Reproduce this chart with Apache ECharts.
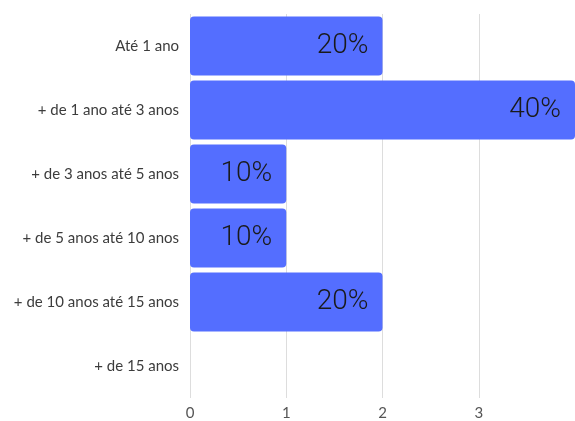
<!DOCTYPE html>
<html><head><meta charset="utf-8">
<script src="https://cdn.jsdelivr.net/npm/echarts@6/dist/echarts.min.js"></script>
<style>html,body{margin:0;padding:0;background:#fff;overflow:hidden}#c{width:575px;height:421px}</style>
</head><body><div id="c"></div>
<script>
const categories = ["Até 1 ano", "+ de 1 ano até 3 anos", "+ de 3 anos até 5 anos", "+ de 5 anos até 10 anos", "+ de 10 anos até 15 anos", "+ de 15 anos"];
const values = [2, 4, 1, 1, 2, 0];
const labels = ["20%", "40%", "10%", "10%", "20%", ""];

const chart = echarts.init(document.getElementById('c'));
chart.setOption({
  animation: false,
  grid: { left: 190, width: 390, top: 14, height: 390, containLabel: false },
  xAxis: {
    type: 'value', min: 0, max: 4, interval: 1,
    axisLine: { show: false }, axisTick: { show: false },
    splitLine: { show: true, lineStyle: { color: '#dddddd', width: 1 } },
    axisLabel: { showMaxLabel: false, color: '#555', fontFamily: 'Lato', fontSize: 15, margin: 8 }
  },
  yAxis: {
    type: 'category', data: categories, inverse: true,
    axisLine: { show: false }, axisTick: { show: false },
    axisLabel: { color: '#3c3c3c', fontFamily: 'Lato', fontSize: 15, margin: 11 }
  },
  series: [{
    type: 'bar',
    data: values,
    barWidth: 59,
    itemStyle: { color: '#546eff', borderRadius: 4 },
    label: {
      show: true, position: 'insideRight', distance: 14,
      formatter: p => labels[p.dataIndex],
      color: '#1a1a1a', fontFamily: 'Roboto', fontWeight: 300, fontSize: 28
    }
  }]
});
</script></body></html>
